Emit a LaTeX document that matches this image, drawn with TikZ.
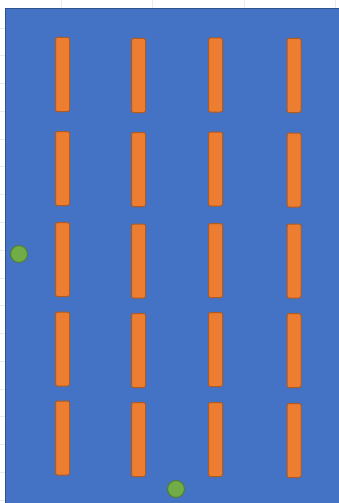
\documentclass[tikz,border=0pt]{standalone}
\definecolor{bgblue}{HTML}{4472C4}
\definecolor{bgedge}{HTML}{2F528F}
\definecolor{barfill}{HTML}{ED7D31}
\definecolor{baredge}{HTML}{AE5A21}
\definecolor{dotfill}{HTML}{70AD47}
\definecolor{dotedge}{HTML}{507E32}
\tikzset{
  bar/.style={draw=baredge, fill=barfill, line width=1pt, rounded corners=2pt, minimum width=14pt, minimum height=74pt, inner sep=0pt},
  dot/.style={circle, draw=dotedge, fill=dotfill, line width=1pt, minimum size=17pt, inner sep=0pt},
  grid/.style={draw=black!8, line width=0.5pt}
}
\begin{document}
\begin{tikzpicture}[x=1pt,y=-1pt]
\useasboundingbox (0,0) rectangle (339,503);
\fill[white] (0,0) rectangle (339,503);
% faint sheet gridlines
\foreach \gx in {61,152,244,335} \draw[grid] (\gx,0) -- (\gx,8);
\foreach \gy in {28,55,83,111,139,166,194,222,250,278,305,333,361,389,416,444,472,500} \draw[grid] (0,\gy) -- (5,\gy);
% background
\fill[bgblue, draw=bgedge, line width=1pt] (5.5,8.5) rectangle (341,505);
% bars
\node[bar] (b11) at (62.5,74.5) {};
\node[bar] (b12) at (138.5,75.5) {};
\node[bar] (b13) at (215.5,75) {};
\node[bar] (b14) at (294,75.5) {};
\node[bar] (b21) at (62.5,168.5) {};
\node[bar] (b22) at (138.5,169.5) {};
\node[bar] (b23) at (215.5,169) {};
\node[bar] (b24) at (294,170) {};
\node[bar] (b31) at (62.5,259.5) {};
\node[bar] (b32) at (138.5,261) {};
\node[bar] (b33) at (215.5,260.5) {};
\node[bar] (b34) at (294,261) {};
\node[bar] (b41) at (62.5,349) {};
\node[bar] (b42) at (138.5,350.5) {};
\node[bar] (b43) at (215.5,349.5) {};
\node[bar] (b44) at (294,350.5) {};
\node[bar] (b51) at (62.5,438) {};
\node[bar] (b52) at (138.5,439.5) {};
\node[bar] (b53) at (215.5,439.5) {};
\node[bar] (b54) at (294,440.5) {};
% dots
\node[dot] (d1) at (19,254) {};
\node[dot] (d2) at (176,489) {};
\end{tikzpicture}
\end{document}
